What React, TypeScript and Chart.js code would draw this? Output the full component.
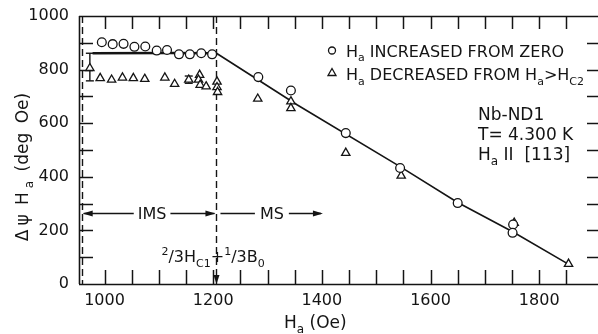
import React, { useEffect, useRef } from 'react';
import { Chart, registerables } from 'chart.js';

Chart.register(...registerables);

// ---- data ----
// H_a increased from zero (open circles)
const incH = [995, 1015, 1035, 1055, 1075, 1096, 1115, 1137, 1157, 1178, 1198, 1283, 1343, 1444, 1544, 1650, 1752, 1751];
const incV = [902, 895, 896, 885, 886, 871, 873, 857, 857, 861, 857, 772, 722, 563, 433, 302, 222, 191];
// H_a decreased from H_a > H_c2 (open triangles)
const decH = [973, 992, 1013, 1033, 1053, 1074, 1111, 1129, 1155, 1175, 1173, 1176, 1187, 1207, 1207, 1208, 1282, 1343, 1343, 1444, 1546, 1754, 1854];
const decV = [805, 768, 762, 770, 768, 765, 770, 746, 762, 780, 762, 743, 737, 755, 734, 716, 691, 681, 656, 489, 404, 228, 75];
// error bars
const errH = [973, 1155];
const errLo = [758, 749];
const errHi = [861, 776];
// drawn curve
const fitH = [978, 1120, 1206, 1355, 1544, 1650, 1752, 1852];
const fitV = [861, 862, 861, 668, 438, 304, 194, 76];
// ticks
const xTicks = [1000, 1050, 1100, 1150, 1200, 1250, 1300, 1350, 1400, 1450, 1500, 1550, 1600, 1650, 1700, 1750, 1800, 1850];
const xLabelTicks = [1000, 1200, 1400, 1600, 1800];
const yTicks = [0, 100, 200, 300, 400, 500, 600, 700, 800, 900, 1000];
const yLabelTicks = [0, 200, 400, 600, 800, 1000];
// annotation values
const boundaryH = [958, 1206];
const regionV = 265;
const msEndH = 1402;
const msLabelH = 1308;

const FAM = 'DejaVu Sans';
const INK = '#141414';

type Part = [string, 'n' | 'sub' | 'sup'];

function drawRich(ctx: CanvasRenderingContext2D, x: number, y: number, parts: Part[], size: number, align: 'left' | 'center' | 'right' = 'left', spacing = 0) {
  const small = Math.round(size * 0.68);
  const widths = parts.map(([t, k]) => {
    ctx.font = `${k === 'n' ? size : small}px "${FAM}"`;
    return ctx.measureText(t).width;
  });
  const total = widths.reduce((a, b) => a + b, 0) + spacing * (parts.length - 1);
  let cx = align === 'left' ? x : align === 'center' ? x - total / 2 : x - total;
  ctx.textAlign = 'left';
  ctx.textBaseline = 'alphabetic';
  parts.forEach(([t, k], i) => {
    ctx.font = `${k === 'n' ? size : small}px "${FAM}"`;
    const dy = k === 'sub' ? size * 0.3 : k === 'sup' ? -size * 0.42 : 0;
    ctx.fillText(t, cx, y + dy);
    cx += widths[i] + spacing;
  });
}

function arrowHead(ctx: CanvasRenderingContext2D, x: number, y: number, dir: 'left' | 'right' | 'down', len = 10, half = 3) {
  ctx.beginPath();
  if (dir === 'left') { ctx.moveTo(x, y); ctx.lineTo(x + len, y - half); ctx.lineTo(x + len, y + half); }
  if (dir === 'right') { ctx.moveTo(x, y); ctx.lineTo(x - len, y - half); ctx.lineTo(x - len, y + half); }
  if (dir === 'down') { ctx.moveTo(x, y); ctx.lineTo(x - half, y - len); ctx.lineTo(x + half, y - len); }
  ctx.closePath();
  ctx.fill();
}

function seg(ctx: CanvasRenderingContext2D, x1: number, y1: number, x2: number, y2: number) {
  ctx.beginPath();
  ctx.moveTo(x1, y1);
  ctx.lineTo(x2, y2);
  ctx.stroke();
}

const underPlugin = {
  id: 'under',
  beforeDatasetsDraw(chart: any) {
    const { ctx, chartArea: a, scales } = chart;
    const xs = scales.x, ys = scales.y;
    ctx.save();
    ctx.strokeStyle = INK;
    ctx.fillStyle = INK;
    ctx.lineWidth = 1.4;
    ctx.setLineDash([7, 4]);
    boundaryH.forEach((h) => {
      const px = Math.round(xs.getPixelForValue(h)) + 0.5;
      seg(ctx, px, a.top, px, a.bottom);
    });
    ctx.setLineDash([]);
    ctx.lineWidth = 1.4;
    errH.forEach((h, i) => {
      const px = xs.getPixelForValue(h);
      const y1 = ys.getPixelForValue(errLo[i]);
      const y2 = ys.getPixelForValue(errHi[i]);
      seg(ctx, px, y1, px, y2);
      seg(ctx, px - 4, y1, px + 4, y1);
      seg(ctx, px - 4, y2, px + 4, y2);
    });
    ctx.restore();
  },
};

const tickPlugin = {
  id: 'inwardTicks',
  afterDatasetsDraw(chart: any) {
    const { ctx, chartArea: a, scales } = chart;
    const xs = scales.x, ys = scales.y;
    const right = chart.width;
    ctx.save();
    ctx.setLineDash([]);
    ctx.strokeStyle = INK;
    ctx.lineWidth = 1.6;
    // frame: left, top, bottom
    seg(ctx, a.left + 0.5, a.bottom, a.left + 0.5, a.top);
    seg(ctx, a.left, a.top + 0.5, right, a.top + 0.5);
    seg(ctx, a.left, a.bottom + 0.5, right, a.bottom + 0.5);
    ctx.lineWidth = 1.5;
    xTicks.forEach((v) => {
      const px = Math.round(xs.getPixelForValue(v)) + 0.5;
      seg(ctx, px, a.bottom, px, a.bottom - 14);
      seg(ctx, px, a.top, px, a.top + 13);
    });
    yTicks.forEach((v) => {
      if (v === 0 || v === 1000) return;
      const py = Math.round(ys.getPixelForValue(v)) + 0.5;
      seg(ctx, a.left, py, a.left + 14, py);
      seg(ctx, right, py, right - 11, py);
    });
    ctx.restore();
  },
};

const textPlugin = {
  id: 'texts',
  afterDraw(chart: any) {
    const { ctx, chartArea: a, scales } = chart;
    const xs = scales.x, ys = scales.y;
    ctx.save();
    ctx.setLineDash([]);
    ctx.strokeStyle = INK;
    ctx.fillStyle = INK;

    // IMS / MS arrows
    const ry = Math.round(ys.getPixelForValue(regionV)) + 0.5;
    const b0 = xs.getPixelForValue(boundaryH[0]);
    const b1 = xs.getPixelForValue(boundaryH[1]);
    const imsC = (b0 + b1) / 2 + 3;
    ctx.font = `16px "${FAM}"`;
    ctx.textAlign = 'center';
    ctx.textBaseline = 'middle';
    const imsW = ctx.measureText('IMS').width;
    ctx.lineWidth = 1.3;
    seg(ctx, b0 + 2, ry, imsC - imsW / 2 - 4, ry);
    seg(ctx, imsC + imsW / 2 + 4, ry, b1 - 2, ry);
    arrowHead(ctx, b0 + 1, ry, 'left');
    arrowHead(ctx, b1 - 1, ry, 'right');
    ctx.fillText('IMS', imsC, ry + 1);
    const msC = xs.getPixelForValue(msLabelH);
    const msE = xs.getPixelForValue(msEndH);
    const msW = ctx.measureText('MS').width;
    seg(ctx, b1 + 4, ry, msC - msW / 2 - 5, ry);
    seg(ctx, msC + msW / 2 + 5, ry, msE - 2, ry);
    arrowHead(ctx, msE, ry, 'right');
    ctx.fillText('MS', msC, ry + 1);
    arrowHead(ctx, Math.round(b1) + 0.5, a.bottom, 'down', 9, 3);

    // boundary formula
    drawRich(ctx, b1 - 55, 262, [['2', 'sup'], ['/', 'n'], ['3', 'n'], ['H', 'n'], ['C1', 'sub'], ['+', 'n'], ['1', 'sup'], ['/', 'n'], ['3', 'n'], ['B', 'n'], ['0', 'sub']], 16);

    // legend
    ctx.lineWidth = 1.3;
    ctx.beginPath();
    ctx.arc(332, 50.5, 3.5, 0, Math.PI * 2);
    ctx.stroke();
    ctx.beginPath();
    ctx.moveTo(332, 68.5); ctx.lineTo(336, 75.5); ctx.lineTo(328, 75.5); ctx.closePath();
    ctx.stroke();
    drawRich(ctx, 346, 56.5, [['H', 'n'], ['a', 'sub'], [' INCREASED FROM ZERO', 'n']], 16);
    drawRich(ctx, 346, 80, [['H', 'n'], ['a', 'sub'], [' DECREASED FROM H', 'n'], ['a', 'sub'], ['>H', 'n'], ['C2', 'sub']], 16);

    // sample info
    drawRich(ctx, 478, 119.5, [['Nb-ND1', 'n']], 17);
    drawRich(ctx, 478, 140, [['T= 4.300 K', 'n']], 17);
    drawRich(ctx, 478, 159.5, [['H', 'n'], ['a', 'sub'], [' II  [113]', 'n']], 17);

    // axis titles
    drawRich(ctx, 284, 328, [['H', 'n'], ['a', 'sub'], [' (Oe)', 'n']], 17);
    ctx.save();
    ctx.translate(28, 167);
    ctx.rotate(-Math.PI / 2);
    drawRich(ctx, 0, 0, [['Δ', 'n'], ['ψ', 'n'], [' H', 'n'], ['a', 'sub'], [' (deg', 'n'], [' Oe)', 'n']], 17, 'center', 4);
    ctx.restore();

    ctx.restore();
  },
};

export default function App() {
  const ref = useRef<HTMLCanvasElement>(null);
  useEffect(() => {
    document.body.style.margin = '0';
    const chart = new Chart(ref.current!, {
      type: 'scatter',
      data: {
        datasets: [
          {
            label: 'H_a increased from zero',
            data: incH.map((h, i) => ({ x: h, y: incV[i] })),
            pointStyle: 'circle',
            pointRadius: 4.4,
            pointBorderWidth: 1.3,
            pointBorderColor: INK,
            pointBackgroundColor: '#ffffff',
            showLine: false,
          },
          {
            label: 'H_a decreased from H_a > H_c2',
            data: decH.map((h, i) => ({ x: h, y: decV[i] })),
            pointStyle: 'triangle',
            pointRadius: 4.8,
            pointBorderWidth: 1.3,
            pointBorderColor: INK,
            pointBackgroundColor: '#ffffff',
            showLine: false,
          },
          {
            type: 'line',
            label: 'curve',
            data: fitH.map((h, i) => ({ x: h, y: fitV[i] })),
            borderColor: INK,
            borderWidth: 1.6,
            pointRadius: 0,
            tension: 0,
            segment: { borderWidth: (c: any) => (c.p0DataIndex < 2 ? 2.6 : 1.6) },
          } as any,
        ],
      },
      options: {
        animation: false,
        responsive: false,
        devicePixelRatio: 1,
        layout: { padding: { top: 16, right: 0, left: 0, bottom: 0 } },
        plugins: { legend: { display: false }, tooltip: { enabled: false } },
        scales: {
          x: {
            type: 'linear',
            min: 953,
            max: 1897,
            grid: { display: false, drawTicks: false },
            border: { display: false },
            afterBuildTicks: (s: any) => { s.ticks = xTicks.map((v) => ({ value: v })); },
            afterFit: (s: any) => { s.height = 50; s.paddingLeft = 0; s.paddingRight = 0; },
            ticks: {
              autoSkip: false,
              maxRotation: 0,
              padding: 7,
              color: INK,
              font: { family: FAM, size: 16 },
              callback: (v: any) => (xLabelTicks.includes(Number(v)) ? String(v) : ''),
            },
          },
          y: {
            type: 'linear',
            min: 0,
            max: 1000,
            grid: { display: false, drawTicks: false },
            border: { display: false },
            afterBuildTicks: (s: any) => { s.ticks = yTicks.map((v) => ({ value: v })); },
            afterFit: (s: any) => { s.width = 79; s.paddingTop = 0; s.paddingBottom = 0; },
            ticks: {
              autoSkip: false,
              padding: 10,
              color: INK,
              font: { family: FAM, size: 16 },
              callback: (v: any) => (yLabelTicks.includes(Number(v)) ? String(v) : ''),
            },
          },
        },
      },
      plugins: [underPlugin, tickPlugin, textPlugin],
    });
    return () => chart.destroy();
  }, []);
  return (
    <div style={{ width: 598, height: 334, background: '#fff' }}>
      <canvas ref={ref} width={598} height={334} style={{ display: 'block' }} />
    </div>
  );
}
